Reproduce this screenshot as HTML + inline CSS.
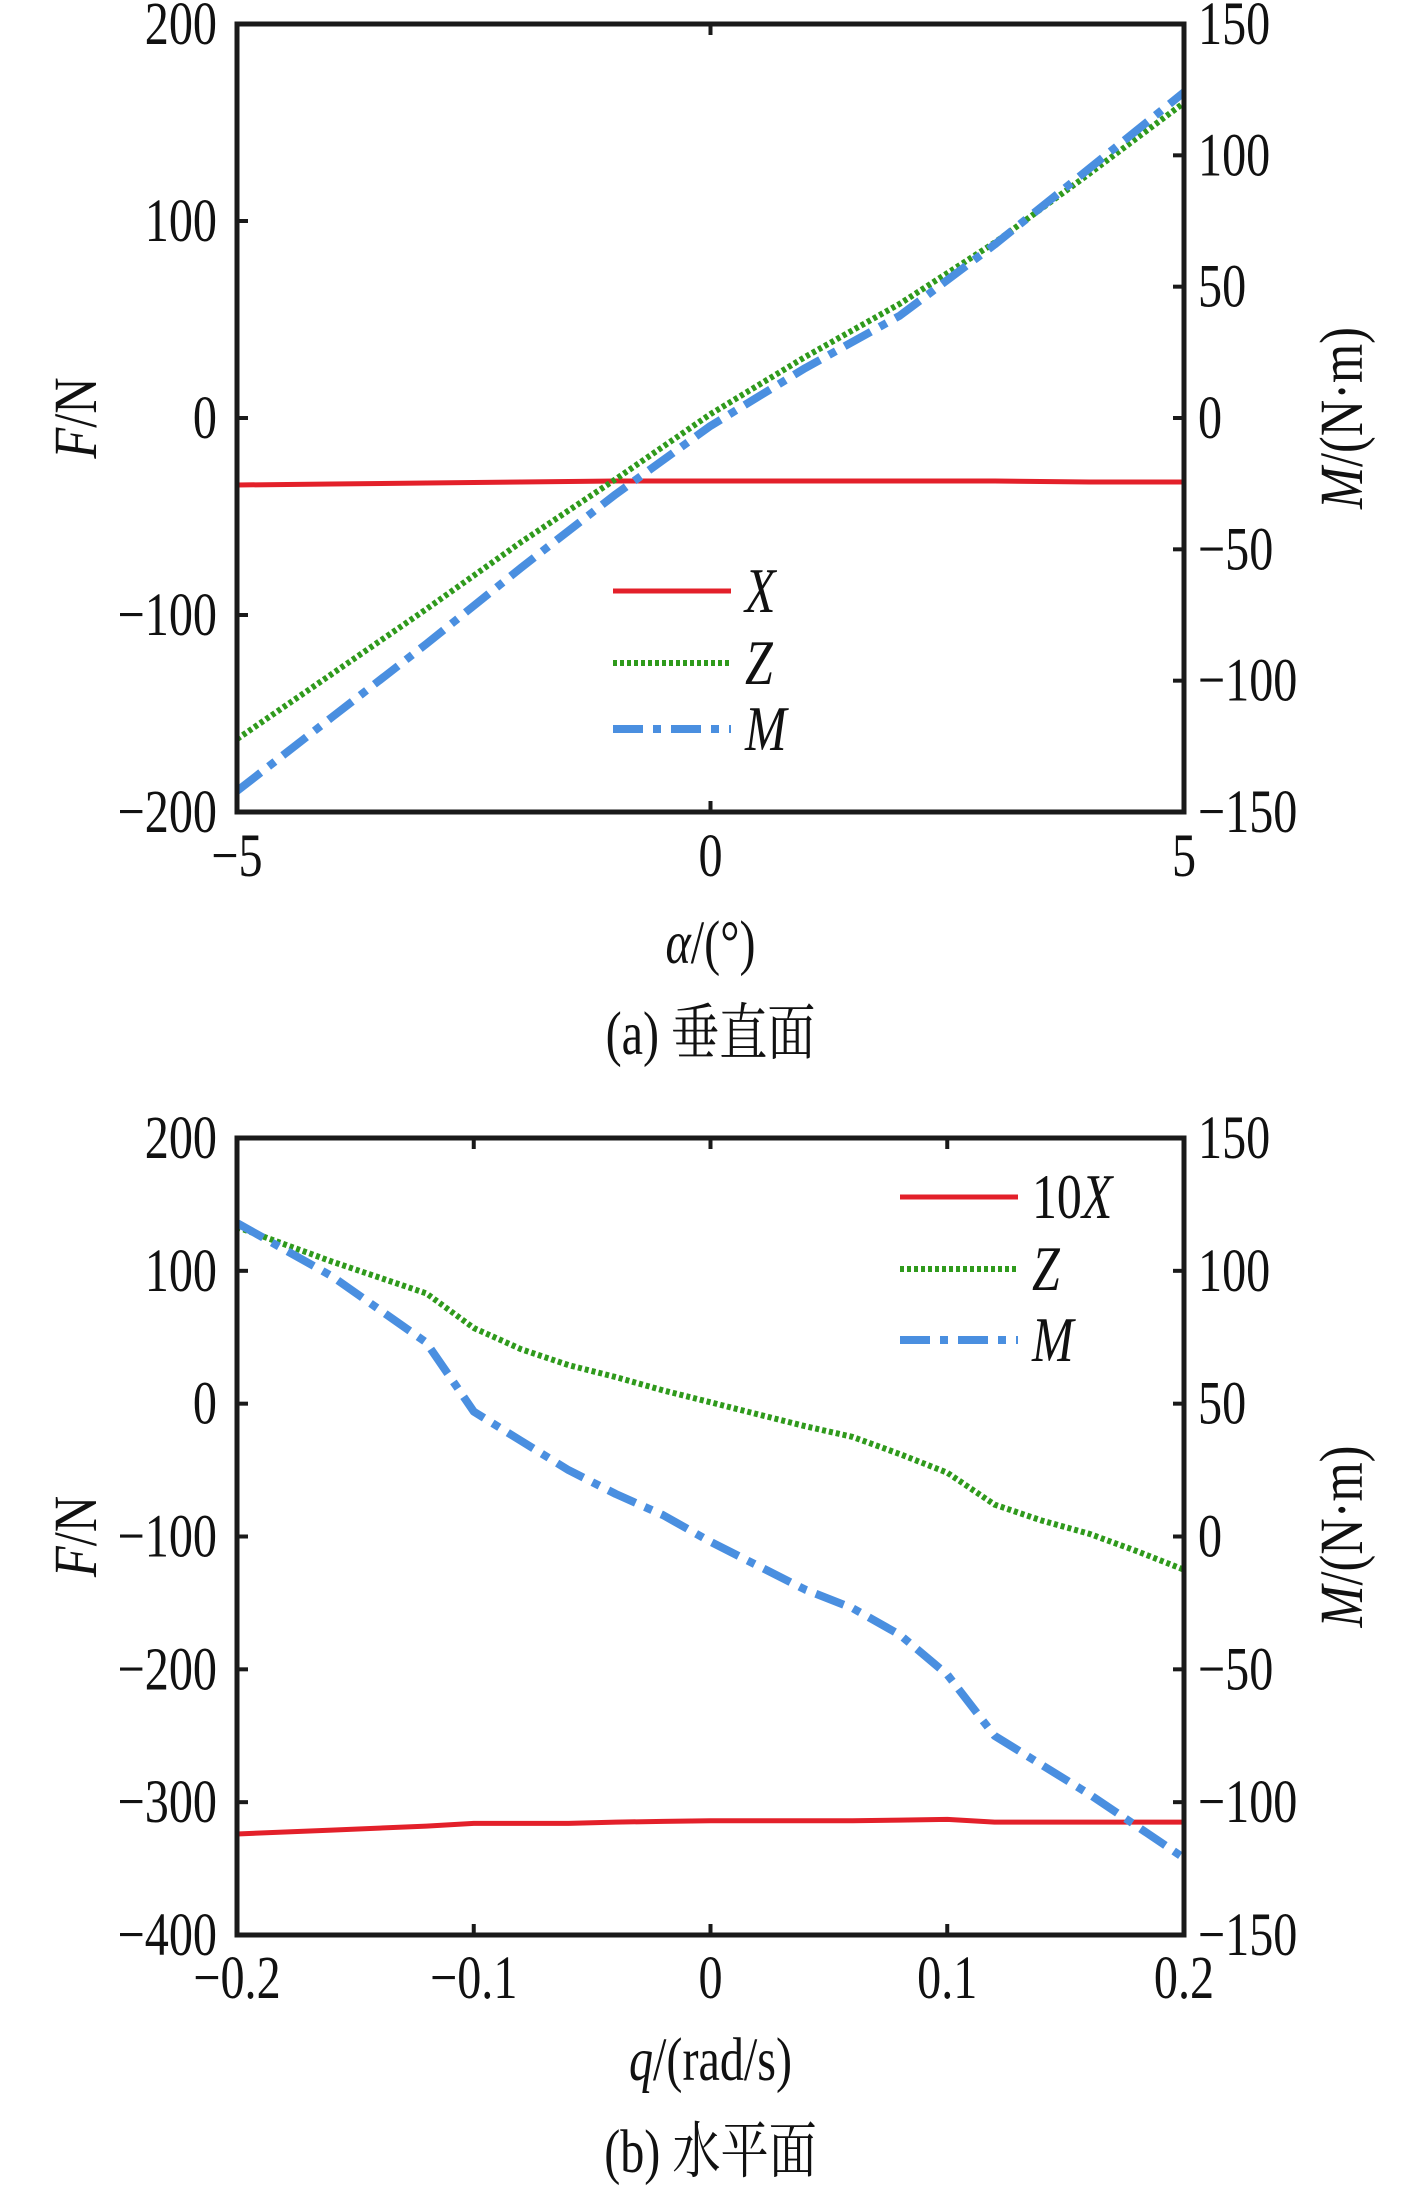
<!DOCTYPE html>
<html><head><meta charset="utf-8"><style>
html,body{margin:0;padding:0;background:#fff;}
svg{display:block;}
text{font-family:"Liberation Serif","Noto Serif CJK SC",serif;fill:#111;}
</style></head><body>
<svg id="fig" width="1417" height="2192" viewBox="0 0 1417 2192" xmlns="http://www.w3.org/2000/svg"></svg>
<script>
// ---- Chart (a) data ----
const aAlpha = [-5,-4,-3,-2,-1,0,1,2,3,4,5];
const aX = [-34,-33.5,-33,-32.5,-32,-32,-32,-32,-32,-32.5,-32.5];
const aZ = [-163,-130,-97,-63,-31,2,31,58,89,124,160];
const aM = [-142,-114,-86,-57,-29,-3,19,39,66,95,124];
const aXTicks = [-5,0,5];
const aFTicks = [-200,-100,0,100,200];
const aMTicks = [-150,-100,-50,0,50,100,150];
// ---- Chart (b) data ----
const bQ = [-0.2,-0.16,-0.12,-0.1,-0.08,-0.06,-0.04,-0.02,0,0.02,0.04,0.06,0.08,0.1,0.12,0.14,0.16,0.18,0.2];
const b10X = [-324,-321,-318,-316,-316,-316,-315,-314.5,-314,-314,-314,-314,-313.5,-313,-315,-315,-315,-315,-315];
const bZ = [133,107,83,57,41,29,20,10,1,-8,-17,-25,-38,-52,-76,-88,-98,-111,-125];
const bM = [118,98,73,47,36,25,16,8,-2,-11,-20,-27,-37,-52,-75,-86,-97,-109,-121];
const bXTicks = [-0.2,-0.1,0,0.1,0.2];
const bXTickLabels = ["\u22120.2","\u22120.1","0","0.1","0.2"];
const bFTicks = [-400,-300,-200,-100,0,100,200];
const bMTicks = [-150,-100,-50,0,50,100,150];

const NS = "http://www.w3.org/2000/svg";
const svg = document.getElementById('fig');
function mk(tag, attrs, parent){const e=document.createElementNS(NS,tag);for(const k in attrs)e.setAttribute(k,attrs[k]);(parent||svg).appendChild(e);return e;}
function fmt(v){return v<0?"\u2212"+Math.abs(v):String(v);}
const FS=56;
function txt(g,x,y,anchor,size){
  return mk('text',{x:0,y:0,'font-size':size,'text-anchor':anchor,transform:`translate(${x} ${y}) scale(0.86 1.1)`},g);
}

function chart(cfg){
  const g = mk('g',{});
  
  
  const L=237,R=1184,T=cfg.top,B=cfg.bottom;
  const sx=v=>L+(v-cfg.xmin)/(cfg.xmax-cfg.xmin)*(R-L);
  const sF=v=>B-(v-cfg.fmin)/(cfg.fmax-cfg.fmin)*(B-T);
  const sM=v=>B-(v-cfg.mmin)/(cfg.mmax-cfg.mmin)*(B-T);
  const series=[
    {vals:cfg.X, sc:sF, color:'#e3202a', w:5, dash:'', name:'series-x-line'},
    {vals:cfg.Z, sc:sF, color:'#2f9a1c', w:6, dash:'4 3', name:'series-z-line'},
    {vals:cfg.M, sc:sM, color:'#4a8fe0', w:8, dash:'30 10 8 10', name:'series-m-line'}
  ];
  series.forEach(s=>{
    const d=cfg.xs.map((x,i)=>(i?'L':'M')+sx(x).toFixed(1)+' '+s.sc(s.vals[i]).toFixed(1)).join(' ');
    const p=mk('path',{d:d,fill:'none',stroke:s.color,'stroke-width':s.w,'stroke-dasharray':s.dash,'stroke-linejoin':'round'},g);
    
    
  });
  const fr=mk('rect',{x:L,y:T,width:R-L,height:B-T,fill:'none',stroke:'#1a1a1a','stroke-width':5},g);
  
  
  cfg.xticks.forEach((v,i)=>{
    const x=sx(v);
    mk('line',{x1:x,y1:B,x2:x,y2:B-11,stroke:'#1a1a1a','stroke-width':4},g);
    mk('line',{x1:x,y1:T,x2:x,y2:T+11,stroke:'#1a1a1a','stroke-width':4},g);
    const t=txt(g,x,cfg.xlabY,'middle',FS);
    t.textContent=cfg.xticklabels?cfg.xticklabels[i]:fmt(v);
    
    
  });
  cfg.fticks.forEach(v=>{
    const y=sF(v);
    mk('line',{x1:L,y1:y,x2:L+11,y2:y,stroke:'#1a1a1a','stroke-width':4},g);
    const t=txt(g,L-20,y+20,'end',FS);
    t.textContent=fmt(v);
    
    
  });
  cfg.mticks.forEach(v=>{
    const y=sM(v);
    mk('line',{x1:R,y1:y,x2:R-11,y2:y,stroke:'#1a1a1a','stroke-width':4},g);
    const t=txt(g,R+14,y+20,'start',FS);
    t.textContent=fmt(v);
    
    
  });
  const xt=txt(g,(L+R)/2,cfg.xtitleY,'middle',FS);
  xt.innerHTML=cfg.xtitle;
  
  
  const cy=(T+B)/2;
  const yl=mk('text',{x:0,y:0,'font-size':FS,'text-anchor':'middle',transform:`translate(96 ${cy}) rotate(-90) scale(0.9 1.1)`},g);
  yl.innerHTML='<tspan font-style="italic">F</tspan>/N';
  
  
  const yr=mk('text',{x:0,y:0,'font-size':FS,'text-anchor':'middle',transform:`translate(1362 ${cy}) rotate(-90) scale(0.9 1.1)`},g);
  yr.innerHTML='<tspan font-style="italic">M</tspan>/(N·m)';
  
  
  const cap=txt(g,(L+R)/2,cfg.capY,'middle',FS);
  cap.textContent=cfg.caption;
  
  
  cfg.legend.forEach((lab,i)=>{
    const s=series[i]; const y=cfg.legY[i];
    const ln=mk('line',{x1:cfg.legX,y1:y,x2:cfg.legX+118,y2:y,stroke:s.color,'stroke-width':s.w,'stroke-dasharray':s.dash},g);
    
    
    const t=txt(g,cfg.legX+132,y+21,'start',58);
    t.innerHTML=lab;
    
    
  });
}

chart({name:'chart-a-vertical',top:24,bottom:812,xmin:-5,xmax:5,fmin:-200,fmax:200,mmin:-150,mmax:150,
  xs:aAlpha,X:aX,Z:aZ,M:aM,xticks:aXTicks,fticks:aFTicks,mticks:aMTicks,
  xlabY:876,xtitleY:963,capY:1054,caption:'(a) 垂直面',
  xtitle:'<tspan font-style="italic">α</tspan>/(°)',
  legend:['<tspan font-style="italic">X</tspan>','<tspan font-style="italic">Z</tspan>','<tspan font-style="italic">M</tspan>'],
  legX:613,legY:[591,663,729]});
chart({name:'chart-b-horizontal',top:1138,bottom:1935,xmin:-0.2,xmax:0.2,fmin:-400,fmax:200,mmin:-150,mmax:150,
  xs:bQ,X:b10X,Z:bZ,M:bM,xticks:bXTicks,xticklabels:bXTickLabels,fticks:bFTicks,mticks:bMTicks,
  xlabY:1998,xtitleY:2080,capY:2172,caption:'(b) 水平面',
  xtitle:'<tspan font-style="italic">q</tspan>/(rad/s)',
  legend:['10<tspan font-style="italic">X</tspan>','<tspan font-style="italic">Z</tspan>','<tspan font-style="italic">M</tspan>'],
  legX:900,legY:[1197,1269,1340]});
</script>
</body></html>
